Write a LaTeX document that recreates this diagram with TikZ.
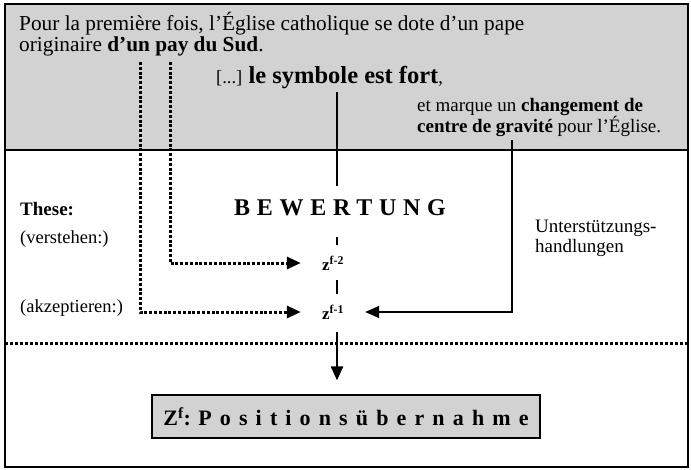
\documentclass[tikz,border=0pt]{standalone}
\usepackage{fontspec}
\setmainfont{Liberation Serif}
\usetikzlibrary{arrows.meta,positioning}

\tikzset{
  txt/.style={inner sep=0pt, font=\fontsize{18.5}{20}\selectfont},
  zlab/.style={inner sep=0pt, font=\fontsize{17}{18}\selectfont\bfseries},
  dotline/.style={line width=3pt, dash pattern=on 3pt off 1.8pt},
  spine/.style={line width=2.6pt},
  tip/.style={-{Triangle[length=14pt,width=12pt]}},
}

\begin{document}
\begin{tikzpicture}[x=1pt,y=-1pt]
  \useasboundingbox (0,0) rectangle (691,469);
  % Rahmen
  \fill[gray!35] (5,4) rectangle (688,150);
  \draw[line width=1.4pt] (5,4) rectangle (688,467);
  \draw[line width=1.4pt] (5,150) -- (688,150);

  % Zitat oben
  \node[txt, font=\fontsize{21.3}{21}\selectfont, anchor=north west, align=left] (intro) at (19,12)
    {Pour la première fois, l’Église catholique se dote d’un pape\\
     originaire \textbf{d’un pay du Sud}.};
  \node[txt, anchor=base west] (sym) at (216,83)
    {[...] {\fontsize{24.5}{26}\selectfont\bfseries le symbole est fort},};
  \node[txt, font=\fontsize{19}{20}\selectfont, anchor=north west, align=left] (grav) at (417,98)
    {et marque un \textbf{changement de}\\
     \textbf{centre de gravité} pour l’Église.};

  % linke Spalte
  \node[txt, font=\fontsize{19}{20}\selectfont\bfseries, anchor=base west] (these) at (20,215) {These:};
  \node[txt, anchor=base west] (verst) at (20,243) {(verstehen:)};
  \node[txt, anchor=base west] (akz) at (20,312) {(akzeptieren:)};
  \node[txt, font=\fontsize{19}{20}\selectfont, anchor=north west, align=left] (stuetz) at (535,220)
    {Unterstützungs-\\handlungen};

  % Mitte
  \node[inner sep=0pt, font=\fontsize{24}{26}\selectfont\bfseries\addfontfeature{LetterSpace=28}] (bew) at (340,208) {BEWERTUNG};
  \node[zlab] (z2) at (333,263) {z\textsuperscript{f-2}};
  \node[zlab] (z1) at (333,312) {z\textsuperscript{f-1}};
  \node[draw, fill=gray!35, line width=1.2pt, minimum width=388pt, minimum height=43pt,
        font=\fontsize{22}{24}\selectfont\bfseries] (zf) at (346,416.5)
    {Z\textsuperscript{f}: {\addfontfeature{LetterSpace=37}Positionsübernahme}};

  \coordinate (col) at (337,0);
  \coordinate (pay) at (140,62);
  \coordinate (du) at (170,62);
  \coordinate (gravfoot) at (512,140);

  % Verbindungen
  \draw[spine, shorten <=4pt, shorten >=14pt] (sym.south -| col) -- (bew.north -| col);
  \draw[spine, shorten <=21pt, shorten >=10pt] (bew.south -| col) -- (z2.north -| col);
  \draw[spine, shorten <=9pt, shorten >=10pt] (z2.south -| col) -- (z1.north -| col);
  \draw[spine, tip, shorten <=12pt, shorten >=14pt] (z1.south -| col) -- (zf.north -| col);

  \draw[dotline, tip, shorten >=21pt] (du) |- (z2.west);
  \draw[dotline, tip, shorten >=21pt] (pay) |- (z1.west);
  \draw[line width=1.4pt, tip, shorten >=21pt] (gravfoot) |- (z1.east);

  % Trennlinie
  \draw[line width=3pt, dash pattern=on 3pt off 2pt] (5,343) -- (688,343);
\end{tikzpicture}
\end{document}
